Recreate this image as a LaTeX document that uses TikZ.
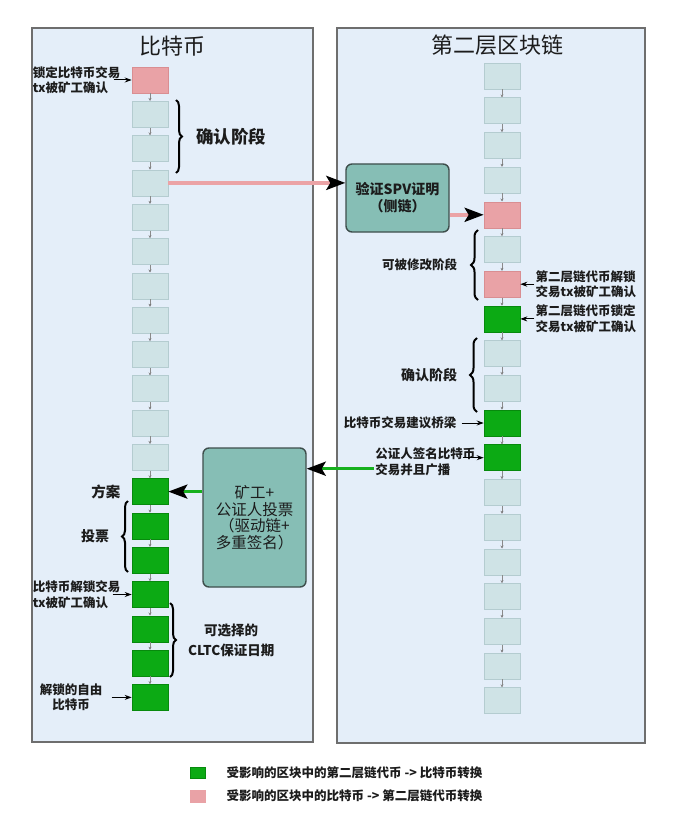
\documentclass[tikz,border=0pt]{standalone}
\usepackage{fontspec}
\usepackage[dvipsnames]{xcolor}
\newfontfamily\cjk{Noto Sans CJK SC}
\usetikzlibrary{positioning,arrows.meta,decorations.pathreplacing}

\definecolor{panelfill}{HTML}{E4EEF9}
\definecolor{panelline}{HTML}{6E6E6E}
\definecolor{blockfill}{HTML}{CFE3E6}
\definecolor{blockline}{HTML}{B4CCD0}
\definecolor{pinkfill}{HTML}{E9A2A6}
\definecolor{pinkline}{HTML}{D98E92}
\definecolor{greenfill}{HTML}{0CAA14}
\definecolor{greenline}{HTML}{078A0D}
\definecolor{boxfill}{HTML}{86BEB5}
\definecolor{boxline}{HTML}{3E4E4C}
\definecolor{pinkarrow}{HTML}{EBA3A6}
\definecolor{greenarrow}{HTML}{16B01E}
\definecolor{chaingray}{HTML}{8A8A8A}
\definecolor{textdark}{HTML}{1C1C1C}

\begin{document}
\begin{tikzpicture}[x=1pt,y=-1pt,>=Stealth,thick,font=\cjk,
    block node/.style={draw=blockline,fill=blockfill,line width=0.6pt,minimum width=36pt,minimum height=26pt,inner sep=0pt},
    pink node/.style={block node,draw=pinkline,fill=pinkfill},
    green node/.style={block node,draw=greenline,fill=greenfill},
    label node/.style={inner sep=1pt,text=textdark,font=\cjk\bfseries\fontsize{12.5}{15.5}\selectfont},
    title node/.style={inner sep=0pt,text=textdark,font=\cjk\fontsize{22}{26}\selectfont},
    box node/.style={draw=boxline,fill=boxfill,line width=1.4pt,rounded corners=6pt,align=center,text=textdark},
    panel/.style={draw=panelline,fill=panelfill,line width=1.1pt},
    chain arrow/.style={draw=chaingray,line width=0.5pt,-{Stealth[length=3pt,width=3pt]}},
    tag arrow/.style={draw=black,line width=1pt,-{Stealth[length=7pt,width=5pt]}},
    pink arrow/.style={draw=pinkarrow,line width=3.5pt,-{Stealth[length=19pt,width=14pt,inset=4pt,color=black]}},
    green arrow/.style={draw=greenarrow,line width=3pt,-{Stealth[length=19pt,width=14pt,inset=4pt,color=black]}},
    brace line/.style={draw=black,line width=2pt,decorate,decoration={brace,amplitude=6pt}}]

    \useasboundingbox (0,0) rectangle (678,821);
    \fill[white] (0,0) rectangle (678,821);

    % two panels
    \draw[panel] (32,28) rectangle (313,742);
    \draw[panel] (337,28) rectangle (645,743);
    \node[title node] (t1) at (172,46) {比特币};
    \node[title node] (t2) at (497,45) {第二层区块链};

    % bitcoin chain
    \begin{scope}[node distance=34.3pt]
        \node[pink node] (L1) at (150,80) {};
        \node[block node] (L2) [below of = L1] {};
        \node[block node] (L3) [below of = L2] {};
        \node[block node] (L4) [below of = L3] {};
        \node[block node] (L5) [below of = L4] {};
        \node[block node] (L6) [below of = L5] {};
        \node[block node] (L7) [below of = L6] {};
        \node[block node] (L8) [below of = L7] {};
        \node[block node] (L9) [below of = L8] {};
        \node[block node] (L10) [below of = L9] {};
        \node[block node] (L11) [below of = L10] {};
        \node[block node] (L12) [below of = L11] {};
        \node[green node] (L13) [below of = L12] {};
        \node[green node] (L14) [below of = L13] {};
        \node[green node] (L15) [below of = L14] {};
        \node[green node] (L16) [below of = L15] {};
        \node[green node] (L17) [below of = L16] {};
        \node[green node] (L18) [below of = L17] {};
        \node[green node] (L19) [below of = L18] {};
    \end{scope}

    % second layer chain
    \begin{scope}[node distance=34.7pt]
        \node[block node] (R1) at (502,76) {};
        \node[block node] (R2) [below of = R1] {};
        \node[block node] (R3) [below of = R2] {};
        \node[block node] (R4) [below of = R3] {};
        \node[pink node] (R5) [below of = R4] {};
        \node[block node] (R6) [below of = R5] {};
        \node[pink node] (R7) [below of = R6] {};
        \node[green node] (R8) [below of = R7] {};
        \node[block node] (R9) [below of = R8] {};
        \node[block node] (R10) [below of = R9] {};
        \node[green node] (R11) [below of = R10] {};
        \node[green node] (R12) [below of = R11] {};
        \node[block node] (R13) [below of = R12] {};
        \node[block node] (R14) [below of = R13] {};
        \node[block node] (R15) [below of = R14] {};
        \node[block node] (R16) [below of = R15] {};
        \node[block node] (R17) [below of = R16] {};
        \node[block node] (R18) [below of = R17] {};
        \node[block node] (R19) [below of = R18] {};
    \end{scope}

    \path[chain arrow]
        (L1) edge (L2) (L2) edge (L3) (L3) edge (L4) (L4) edge (L5)
        (L5) edge (L6) (L6) edge (L7) (L7) edge (L8) (L8) edge (L9)
        (L9) edge (L10) (L10) edge (L11) (L11) edge (L12) (L12) edge (L13)
        (L13) edge (L14) (L14) edge (L15) (L15) edge (L16) (L16) edge (L17)
        (L17) edge (L18) (L18) edge (L19)
        (R1) edge (R2) (R2) edge (R3) (R3) edge (R4) (R4) edge (R5)
        (R5) edge (R6) (R6) edge (R7) (R7) edge (R8) (R8) edge (R9)
        (R9) edge (R10) (R10) edge (R11) (R11) edge (R12) (R12) edge (R13)
        (R13) edge (R14) (R14) edge (R15) (R15) edge (R16) (R16) edge (R17)
        (R17) edge (R18) (R18) edge (R19)
    ;

    % middle boxes
    \node[box node,minimum width=103pt,minimum height=68pt,font=\cjk\bfseries\fontsize{14}{17}\selectfont] (spv) at (397.5,198) {验证SPV证明\\（侧链）};
    \node[box node,minimum width=103pt,minimum height=139pt,font=\cjk\fontsize{15.5}{16.5}\selectfont] (vote) at (254.5,517.5) {矿工+\\公证人投票\\（驱动链+\\多重签名）};

    % labels, bitcoin side
    \node[label node,align=left,left=10pt of L1] (lock) {锁定比特币交易\\tx被矿工确认};
    \node[label node,font=\cjk\bfseries\fontsize{14.5}{17}\selectfont,left=10pt of L13] (plan) {方案};
    \node[label node,align=left,left=10pt of L16] (unlock) {比特币解锁交易\\tx被矿工确认};
    \node[label node,align=center,left=26pt of L19,inner sep=3pt] (free) {解锁的自由\\比特币};

    \draw[tag arrow] ([xshift=-8pt]lock.east) -- (L1.west);
    \draw[tag arrow] ([xshift=-9pt]unlock.east) -- (L16.west);
    \draw[tag arrow] ([xshift=6pt]free.east) -- (L19.west);

    % labels, second layer side
    \node[label node,align=left,right=14pt of R7] (l2unlock) {第二层链代币解锁\\交易tx被矿工确认};
    \node[label node,align=left,right=14pt of R8] (l2lock) {第二层链代币锁定\\交易tx被矿工确认};
    \node[label node,left=26pt of R11] (bridge) {比特币交易建议桥梁};
    \node[label node,align=left,left=7pt of R12,yshift=-4pt] (notary) {公证人签名比特币\\交易并且广播};
    \coordinate (n0) at ([xshift=-14pt]notary.east);
    \coordinate (g0) at ([yshift=-7pt]notary.west);

    \draw[tag arrow] (l2unlock.west) -- (R7.east);
    \draw[tag arrow] (l2lock.west) -- (R8.east);
    \draw[tag arrow] ([xshift=4pt]bridge.east) -- (R11.west);
    \draw[tag arrow] (n0 |- R12) -- (R12.west);

    % braces
    \draw[brace line] (176,100) -- (176,173)
        node[label node,midway,right=18pt,font=\cjk\bfseries\fontsize{17.5}{20}\selectfont] (conf1) {确认阶段};
    \draw[brace line,decoration={amplitude=7pt}] (478,300) -- (478,230)
        node[label node,midway,left=19pt] (mod) {可被修改阶段};
    \draw[brace line,decoration={amplitude=7pt}] (477,412) -- (477,338)
        node[label node,midway,left=18pt,font=\cjk\bfseries\fontsize{14}{17}\selectfont] (conf2) {确认阶段};
    \draw[brace line] (128,572) -- (128,501)
        node[label node,midway,left=17pt,font=\cjk\bfseries\fontsize{14}{17}\selectfont] (poll) {投票};
    \draw[brace line] (170,603) -- (170,677)
        node[label node,midway,right=16pt,align=center,font=\cjk\bfseries\fontsize{13.5}{20}\selectfont] (cltc) {可选择的\\CLTC保证日期};

    % cross-chain arrows
    \draw[pink arrow] (L4.east) -- (spv.west |- L4);
    \draw[pink arrow] (spv.east |- R5) -- (R5.west);
    \draw[green arrow] (g0) -- (vote.east |- g0);
    \draw[green arrow] (vote.west |- L13) -- (L13.east);

    % legend
    \node[green node,minimum width=15pt,minimum height=11pt] (k1) at (197.5,772.5) {};
    \node[pink node,draw=pinkfill,minimum width=15pt,minimum height=12pt] (k2) at (197.5,796) {};
    \node[label node,right=20pt of k1] (k1t) {受影响的区块中的第二层链代币 -> 比特币转换};
    \node[label node,right=20pt of k2] (k2t) {受影响的区块中的比特币 -> 第二层链代币转换};
\end{tikzpicture}
\end{document}
